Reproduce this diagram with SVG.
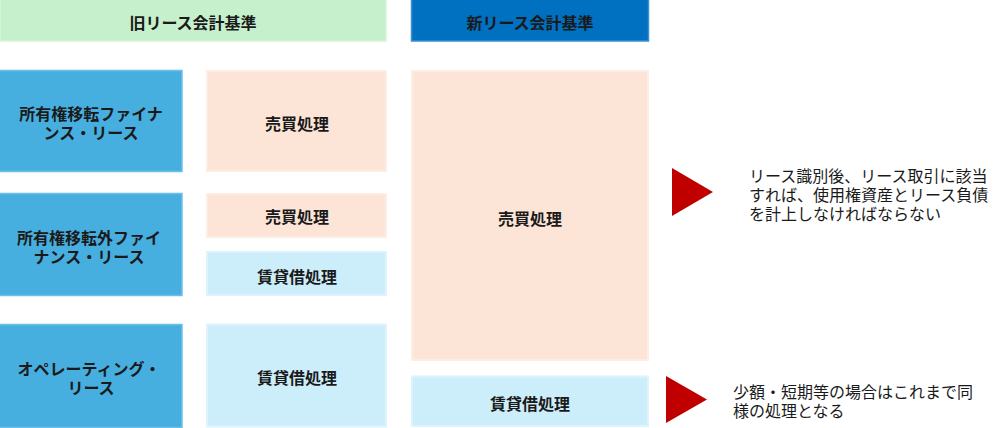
<svg xmlns="http://www.w3.org/2000/svg" width="1007" height="428" viewBox="0 0 1007 428">
<style>
text{font-family:"Noto Sans CJK JP","Noto Sans",sans-serif;font-size:16px;fill:#1a1a1a;text-anchor:middle;dominant-baseline:central}
.b{font-weight:bold}
.n{text-anchor:start}
.hg{fill:#C6F0CB;stroke:#D4F5D8;stroke-width:1.5}
.hb{fill:#0070C0;stroke:#3C8FD0;stroke-width:1.5}
.kind{fill:#47AFE0;stroke:#6CC0E8;stroke-width:1.5}
.pink{fill:#FCE4D6;stroke:#FDEEE5;stroke-width:2}
.lb{fill:#CCEEFB;stroke:#DDF4FD;stroke-width:2}
.tri{fill:#C00000}
</style>
<g id="hdr-old"><rect class="hg" x="0" y="-1" width="386" height="42"/><text class="b" x="193" y="22">旧リース会計基準</text></g>
<g id="hdr-new"><rect class="hb" x="411.5" y="-1" width="237" height="42"/><text class="b" x="530" y="22">新リース会計基準</text></g>

<g id="k1"><rect class="kind" x="-1" y="70.5" width="183" height="101"/><text class="b" y="113"><tspan x="91">所有権移転ファイナ</tspan><tspan x="91" dy="19">ンス・リース</tspan></text></g>
<g id="k2"><rect class="kind" x="-1" y="193.5" width="183" height="102"/><text class="b" y="237"><tspan x="89">所有権移転外ファイ</tspan><tspan x="89" dy="19">ナンス・リース</tspan></text></g>
<g id="k3"><rect class="kind" x="-1" y="324.5" width="183" height="103"/><text class="b" y="368"><tspan x="89">オペレーティング・</tspan><tspan x="91" dy="19">リース</tspan></text></g>

<g id="o1"><rect class="pink" x="207" y="71" width="179" height="100"/><text class="b" x="297" y="123">売買処理</text></g>
<g id="o2a"><rect class="pink" x="207" y="194" width="179" height="43"/><text class="b" x="297" y="216">売買処理</text></g>
<g id="o2b"><rect class="lb" x="207" y="252" width="179" height="43"/><text class="b" x="297" y="276">賃貸借処理</text></g>
<g id="o3"><rect class="lb" x="207" y="324.5" width="179" height="102"/><text class="b" x="297" y="377">賃貸借処理</text></g>

<g id="n1"><rect class="pink" x="412" y="71" width="236" height="289"/><text class="b" x="530" y="218">売買処理</text></g>
<g id="n2"><rect class="lb" x="412" y="376.5" width="236" height="49.5"/><text class="b" x="530" y="403">賃貸借処理</text></g>

<g id="connectors">
<polygon class="tri" points="672,168 713,192 672,216"/>
<polygon class="tri" points="666,376 707,399.5 666,423"/>
</g>

<g id="note1"><text class="n" y="174.5"><tspan x="749">リース識別後、リース取引に該当</tspan><tspan x="749" dy="19">すれば、使用権資産とリース負債</tspan><tspan x="749" dy="19">を計上しなければならない</tspan></text></g>
<g id="note2"><text class="n" y="391"><tspan x="733">少額・短期等の場合はこれまで同</tspan><tspan x="733" dy="19">様の処理となる</tspan></text></g>
</svg>
